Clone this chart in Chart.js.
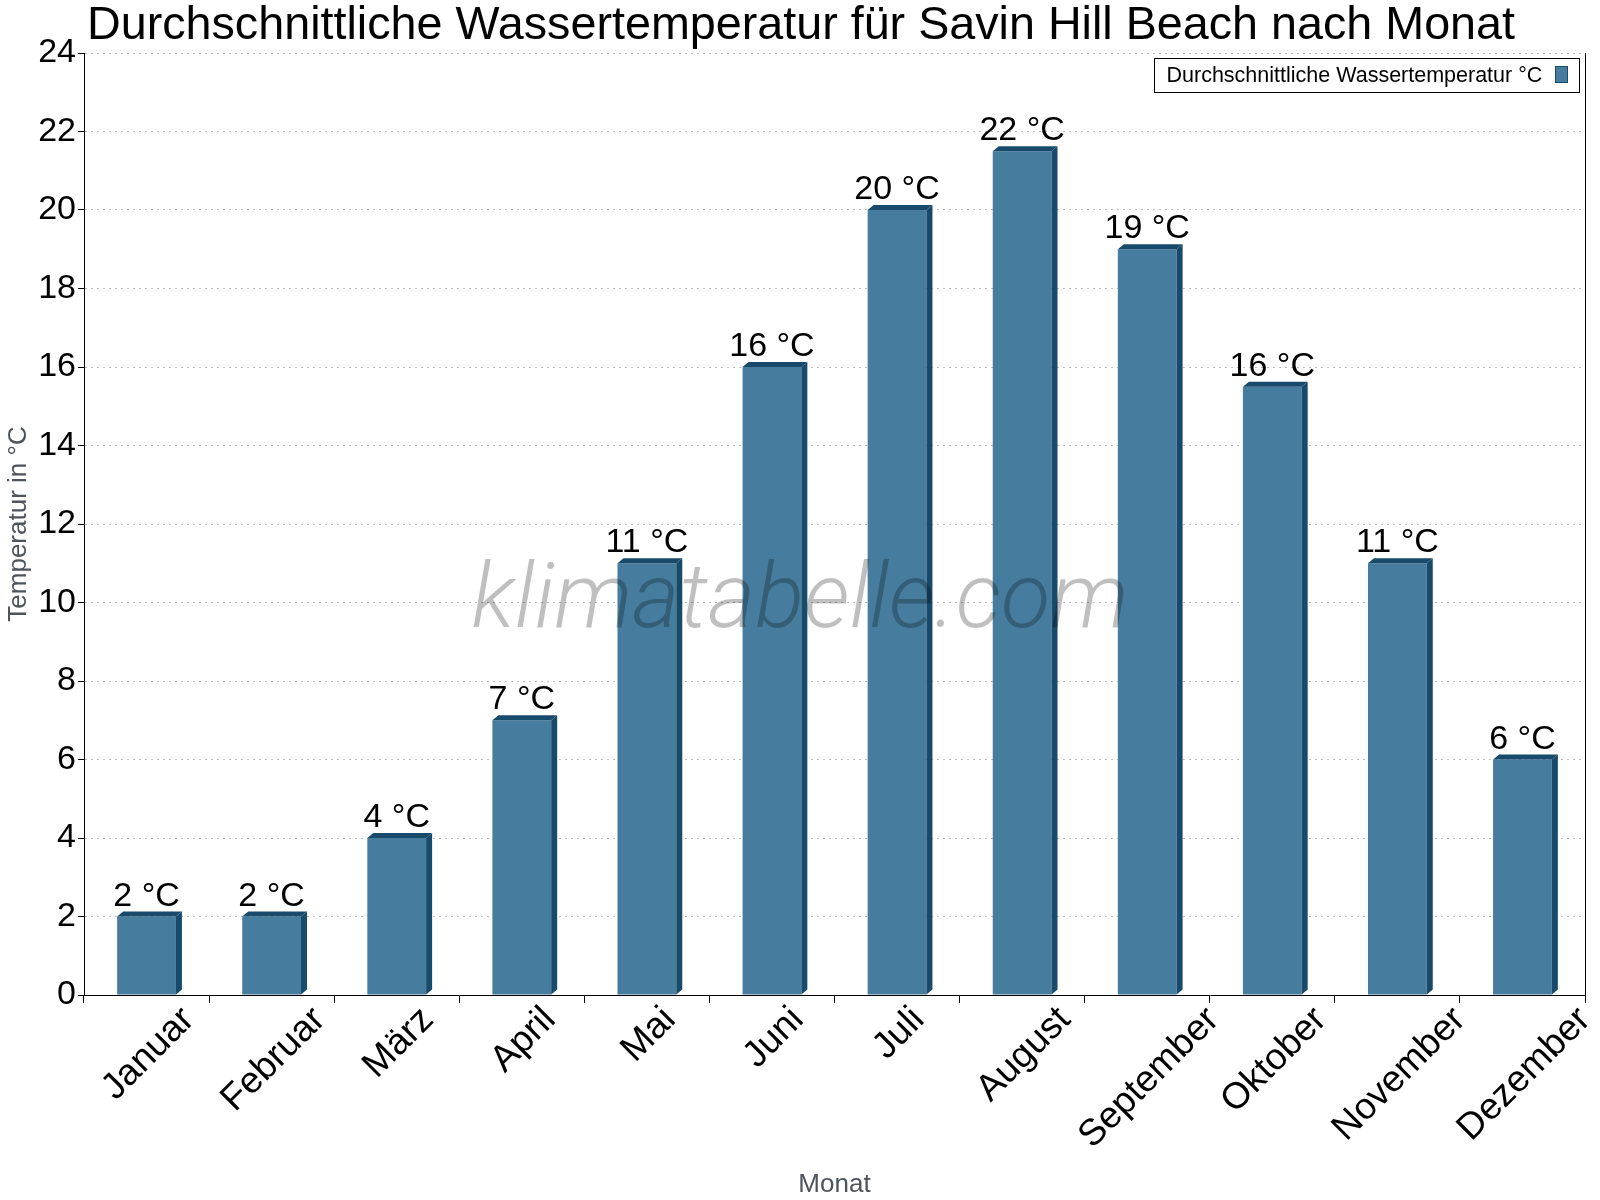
<!DOCTYPE html>
<html>
<head>
<meta charset="utf-8">
<script src="https://cdn.jsdelivr.net/npm/chart.js@4.4.1/dist/chart.umd.min.js"></script>
<style>
html,body{margin:0;padding:0;background:#ffffff;}
#wrap{width:1600px;height:1200px;}
</style>
</head>
<body>
<div id="wrap"><canvas id="c" width="1600" height="1200"></canvas></div>
<script>
const chartTitle = 'Durchschnittliche Wassertemperatur für Savin Hill Beach nach Monat';
const months = ['Januar','Februar','März','April','Mai','Juni','Juli','August','September','Oktober','November','Dezember'];
const waterTemp = [2, 2, 4, 7, 11, 16, 20, 21.5, 19, 15.5, 11, 6];
const seriesName = 'Durchschnittliche Wassertemperatur °C';
const unit = '°C';
const yTitle = 'Temperatur in °C';
const xTitle = 'Monat';
const yMin = 0, yMax = 24, yStep = 2;
const watermarkText = 'klimatabelle.com';

const FONT = '"Liberation Sans", Arial, Helvetica, sans-serif';
const FACE = '#467c9e';
const DARK = '#184a6c';
const AXIS_TITLE = '#4d545c';

const decor = {
  id: 'decor',
  afterDatasetsDraw(chart) {
    const ctx = chart.ctx;
    const meta = chart.getDatasetMeta(0);
    const dx = 6, dy = 5;
    // 3D top and side of each bar
    meta.data.forEach((el) => {
      const p = el.getProps(['x', 'y', 'width', 'base'], true);
      const x0 = p.x - p.width / 2, x1 = p.x + p.width / 2;
      ctx.save();
      ctx.fillStyle = DARK;
      ctx.beginPath();
      ctx.moveTo(x0, p.y);
      ctx.lineTo(x0 + dx, p.y - dy);
      ctx.lineTo(x1 + dx, p.y - dy);
      ctx.lineTo(x1, p.y);
      ctx.closePath();
      ctx.fill();
      ctx.beginPath();
      ctx.moveTo(x1, p.y);
      ctx.lineTo(x1 + dx, p.y - dy);
      ctx.lineTo(x1 + dx, p.base - dy);
      ctx.lineTo(x1, p.base);
      ctx.closePath();
      ctx.fill();
      ctx.restore();
    });
    // watermark
    ctx.save();
    let wmSize = 100;
    ctx.font = 'italic 300 ' + wmSize + 'px Roboto, "Liberation Sans", sans-serif';
    const wmW = ctx.measureText(watermarkText).width;
    wmSize = wmSize * 657 / wmW;
    ctx.font = 'italic 300 ' + wmSize.toFixed(1) + 'px Roboto, "Liberation Sans", sans-serif';
    ctx.fillStyle = 'rgba(0,0,0,0.25)';
    ctx.textAlign = 'center';
    ctx.textBaseline = 'alphabetic';
    ctx.fillText(watermarkText, chart.width / 2, chart.height / 2 + 27);
    ctx.restore();
    // value labels
    ctx.save();
    ctx.font = '34px ' + FONT;
    ctx.fillStyle = '#000';
    ctx.textAlign = 'center';
    ctx.textBaseline = 'alphabetic';
    meta.data.forEach((el, i) => {
      const p = el.getProps(['x', 'y'], true);
      ctx.fillText(Math.round(waterTemp[i]) + ' ' + unit, p.x, p.y - 11);
    });
    ctx.restore();
  },
  afterDraw(chart) {
    const ctx = chart.ctx;
    const area = chart.chartArea;
    const xs = chart.scales.x;
    // title
    ctx.save();
    ctx.font = '46.7px ' + FONT;
    ctx.fillStyle = '#000';
    ctx.textAlign = 'center';
    ctx.textBaseline = 'alphabetic';
    ctx.fillText(chartTitle, 801, 39);
    ctx.restore();
    // right border
    ctx.save();
    ctx.strokeStyle = '#000';
    ctx.lineWidth = 1;
    ctx.beginPath();
    ctx.moveTo(Math.round(area.right) + 0.5, area.top);
    ctx.lineTo(Math.round(area.right) + 0.5, area.bottom);
    ctx.stroke();
    ctx.restore();
    // rotated category labels
    ctx.save();
    ctx.font = '37px ' + FONT;
    ctx.fillStyle = '#000';
    ctx.textAlign = 'center';
    ctx.textBaseline = 'middle';
    months.forEach((m, i) => {
      const cx = xs.getPixelForValue(i);
      const w = ctx.measureText(m).width;
      const cy = area.bottom + 19 + 0.3536 * w;
      ctx.save();
      ctx.translate(cx + 2, cy);
      ctx.rotate(-Math.PI / 4);
      ctx.fillText(m, 0, 0);
      ctx.restore();
    });
    ctx.restore();
    // legend
    ctx.save();
    const lx = 1154.5, ly = 58.5, lw = 425, lh = 34;
    ctx.fillStyle = '#fff';
    ctx.fillRect(lx, ly, lw, lh);
    ctx.strokeStyle = '#000';
    ctx.lineWidth = 1;
    ctx.strokeRect(lx, ly, lw, lh);
    ctx.font = '21.5px ' + FONT;
    ctx.fillStyle = '#000';
    ctx.textAlign = 'left';
    ctx.textBaseline = 'middle';
    ctx.fillText(seriesName, lx + 12, ly + lh / 2 + 1);
    ctx.fillStyle = FACE;
    ctx.fillRect(1555.5, 66.5, 12, 16);
    ctx.strokeStyle = DARK;
    ctx.strokeRect(1555.5, 66.5, 12, 16);
    ctx.restore();
  }
};

new Chart(document.getElementById('c'), {
  type: 'bar',
  data: {
    labels: months,
    datasets: [{
      label: seriesName,
      data: waterTemp,
      backgroundColor: FACE,
      borderWidth: 0,
      categoryPercentage: 1,
      barPercentage: 0.47
    }]
  },
  options: {
    responsive: false,
    animation: false,
    devicePixelRatio: 1,
    layout: { padding: { top: 53, right: 15, bottom: 0, left: 0 } },
    plugins: {
      legend: { display: false },
      tooltip: { enabled: false },
      title: { display: false }
    },
    scales: {
      x: {
        type: 'category',
        offset: true,
        grid: { display: true, drawOnChartArea: false, drawTicks: true, tickLength: 8, tickColor: '#000', offset: true },
        border: { display: true, color: '#000', width: 1 },
        ticks: { display: false },
        title: { display: true, text: xTitle, color: AXIS_TITLE, font: { family: FONT, size: 26 }, padding: { top: 0, bottom: 0 } },
        afterFit(s) { s.height = 205; }
      },
      y: {
        min: yMin,
        max: yMax,
        ticks: { stepSize: yStep, color: '#000', font: { family: FONT, size: 34 }, padding: 2 },
        grid: { color: '#bdbdbd', lineWidth: 1, drawTicks: true, tickLength: 6, tickColor: '#000', tickBorderDash: [] },
        border: { display: true, color: '#000', width: 1, dash: [2, 4] },
        title: { display: true, text: yTitle, color: AXIS_TITLE, font: { family: FONT, size: 26 }, padding: { top: 3, bottom: 0 } },
        afterFit(s) { s.width = 84; }
      }
    }
  },
  plugins: [decor]
});
</script>
</body>
</html>
